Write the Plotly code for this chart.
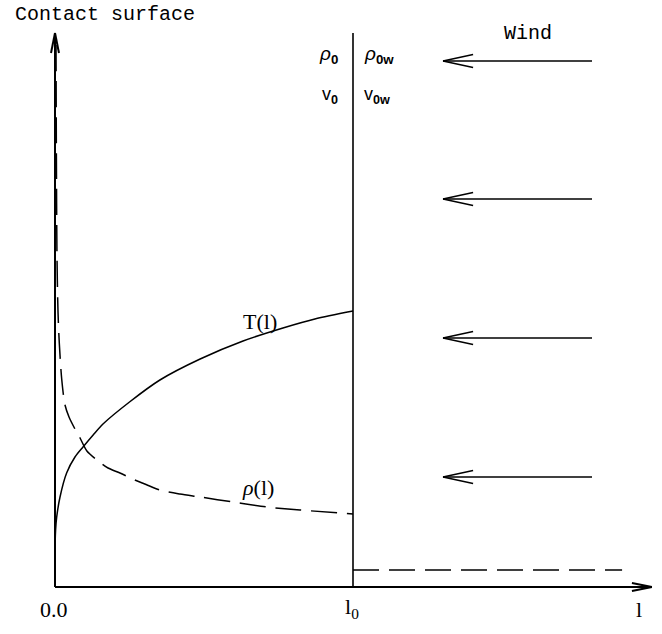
import plotly.graph_objects as go

# Position along the column, in units of l0, and the profiles (arbitrary units)
l_T = [0, 0.0001, 0.0005, 0.002, 0.0057, 0.0168, 0.039, 0.067, 0.094, 0.128,
       0.161, 0.25, 0.352, 0.487, 0.631, 0.765, 0.872, 1.0]
T_vals = [0, 0.30, 0.45, 0.57, 0.70, 0.90, 1.14, 1.30, 1.40, 1.52,
          1.63, 1.85, 2.07, 2.28, 2.46, 2.59, 2.68, 2.76]

l_rho = [0.0034, 0.0047, 0.0067, 0.0101, 0.0144, 0.0225, 0.0336, 0.047, 0.067,
         0.084, 0.107, 0.141, 0.178, 0.218, 0.268, 0.309, 0.352, 0.419, 0.487,
         0.597, 0.711, 0.822, 1.0]
rho_vals = [5.42, 4.30, 3.30, 2.75, 2.44, 2.08, 1.82, 1.70, 1.58,
            1.49, 1.36, 1.27, 1.19, 1.14, 1.07, 1.02, 0.97, 0.93, 0.90,
            0.85, 0.80, 0.77, 0.73]

# Wind side: uniform density beyond l0
l_wind = [1.0, 1.903]
rho_wind = [0.17, 0.17]

# Heights of the wind arrows and their horizontal extent
wind_levels = [5.26, 3.88, 2.49, 1.10]
wind_tail, wind_tip = 1.802, 1.302

axis_top = 5.54      # top of the vertical axis (and of the l0 line)
axis_right = 2.003   # end of the horizontal axis
l0 = 1.0

INK = "black"
DASH = "26px,10px"

fig = go.Figure()

fig.add_trace(go.Scatter(x=l_T, y=T_vals, mode="lines",
                         line=dict(color=INK, width=1.5, shape="spline", smoothing=0.8),
                         hoverinfo="skip"))
fig.add_trace(go.Scatter(x=l_rho, y=rho_vals, mode="lines",
                         line=dict(color=INK, width=1.5, dash=DASH, shape="spline", smoothing=0.8),
                         hoverinfo="skip"))
fig.add_trace(go.Scatter(x=l_wind, y=rho_wind, mode="lines",
                         line=dict(color=INK, width=1.5, dash=DASH), hoverinfo="skip"))

shapes = []


def seg(x0, y0, x1, y1, w=1.5):
    shapes.append(dict(type="line", xref="x", yref="y", x0=x0, y0=y0, x1=x1, y1=y1,
                       line=dict(color=INK, width=w)))


# axes with open arrowheads
seg(0, 0, 0, axis_top, 2)
seg(0, axis_top, -0.0134, axis_top - 0.20, 2)
seg(0, axis_top, 0.0134, axis_top - 0.20, 2)
seg(0, 0, axis_right, 0, 2)
seg(axis_right, 0, axis_right - 0.067, 0.04, 2)
seg(axis_right, 0, axis_right - 0.067, -0.04, 2)

# contact discontinuity at l0
seg(l0, 0, l0, axis_top, 1.6)

# wind arrows
for yw in wind_levels:
    seg(wind_tail, yw, wind_tip, yw)
    seg(wind_tip, yw, wind_tip + 0.101, yw + 0.065)
    seg(wind_tip, yw, wind_tip + 0.101, yw - 0.065)

SERIF = "Liberation Serif"
SANS = "Liberation Sans"
MONO = "Liberation Mono"


def label(x, y, text, family, size, xanchor="center"):
    return dict(x=x, y=y, xref="x", yref="y", text=text, showarrow=False,
                xanchor=xanchor, yanchor="middle",
                font=dict(family=family, size=size, color=INK))


annotations = [
    label(0.168, 5.73, "Contact surface", MONO, 20),
    label(1.587, 5.54, "Wind", MONO, 20),
    label(0.956, 5.32, "<i>ρ</i><sub><b>0</b></sub>", SANS, 19, "right"),
    label(1.030, 5.32, "<i>ρ</i><sub><b>0w</b></sub>", SANS, 19, "left"),
    label(0.956, 4.92, "v<sub><b>0</b></sub>", SANS, 18, "right"),
    label(1.030, 4.92, "v<sub><b>0w</b></sub>", SANS, 18, "left"),
    label(0.688, 2.66, "T(l)", SERIF, 22),
    label(0.681, 1.00, "<i>ρ</i>(l)", SERIF, 22),
    label(-0.003, -0.22, "0.0", SERIF, 22),
    label(0.995, -0.21, "l<sub>0</sub>", SERIF, 22),
    label(1.960, -0.22, "l", SERIF, 22),
]

fig.update_layout(
    width=662, height=634,
    margin=dict(l=0, r=0, t=0, b=0),
    paper_bgcolor="white", plot_bgcolor="white",
    showlegend=False,
    shapes=shapes,
    annotations=annotations,
    xaxis=dict(range=[-0.18456, 2.03691], visible=False, fixedrange=True),
    yaxis=dict(range=[-0.47, 5.87], visible=False, fixedrange=True),
)

fig.write_html("out.html", config={"displayModeBar": False})
